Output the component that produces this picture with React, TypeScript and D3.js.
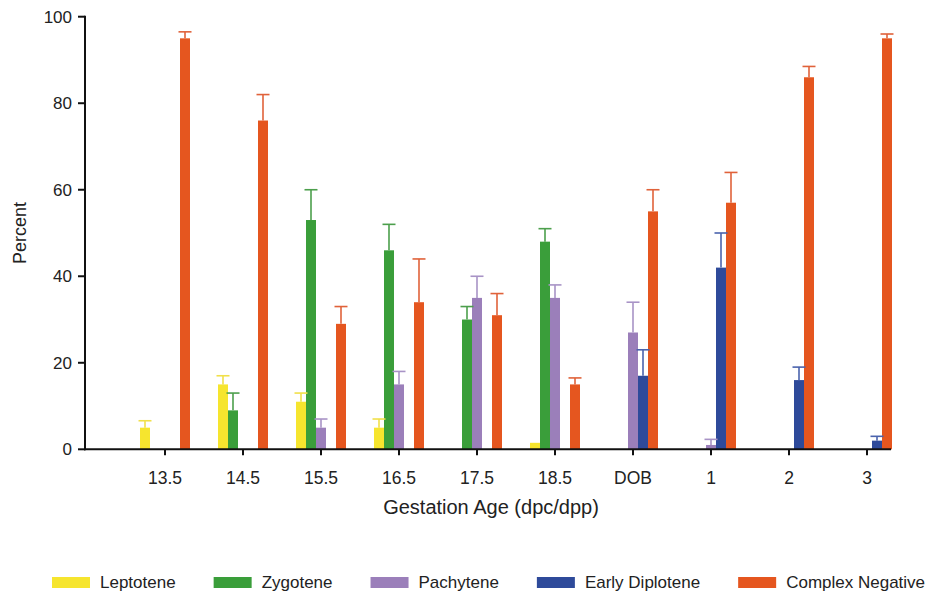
import { useEffect, useRef } from 'react';
import * as d3 from 'd3';

const categories = ['13.5', '14.5', '15.5', '16.5', '17.5', '18.5', 'DOB', '1', '2', '3'];

const stages = ['Leptotene', 'Zygotene', 'Pachytene', 'Early Diplotene', 'Complex Negative'];

const leptotene = [5, 15, 11, 5, 0, 1.5, 0, 0, 0, 0];
const zygotene = [0, 9, 53, 46, 30, 48, 0, 0, 0, 0];
const pachytene = [0, 0, 5, 15, 35, 35, 27, 1, 0, 0];
const earlyDiplotene = [0, 0, 0, 0, 0, 0, 17, 42, 16, 2];
const complexNegative = [95, 76, 29, 34, 31, 15, 55, 57, 86, 95];

// error bar (upper) lengths
const leptoteneErr = [1.6, 2, 2, 2, 0, 0, 0, 0, 0, 0];
const zygoteneErr = [0, 4, 7, 6, 3, 3, 0, 0, 0, 0];
const pachyteneErr = [0, 0, 2, 3, 5, 3, 7, 1.3, 0, 0];
const earlyDiploteneErr = [0, 0, 0, 0, 0, 0, 6, 8, 3, 1];
const complexNegativeErr = [1.5, 6, 4, 10, 5, 1.5, 5, 7, 2.5, 1];

const yTicks = [0, 20, 40, 60, 80, 100];

const seriesValues = [leptotene, zygotene, pachytene, earlyDiplotene, complexNegative];
const seriesErrors = [leptoteneErr, zygoteneErr, pachyteneErr, earlyDiploteneErr, complexNegativeErr];

const barColors = ['#f6e52e', '#3a9e3a', '#9b7fba', '#2e4a9a', '#e5561f'];
const errColors = ['#f1e04a', '#4c9f4c', '#a893c6', '#4a63ad', '#e0623a'];

const FONT = "'Liberation Sans', Arial, Helvetica, sans-serif";
const TEXT = '#222';

export default function App() {
    const svgRef = useRef<SVGSVGElement>(null);
    const width = 929;
    const height = 592;

    useEffect(() => {
        if (!svgRef.current) return;
        const svg = d3.select(svgRef.current);
        svg.selectAll('*').remove();

        const axisLeft = 85;
        const axisRight = 891;

        const x = d3.scalePoint<string>()
            .domain(categories)
            .range([165, 867]);

        const x1 = d3.scaleBand<string>()
            .domain(stages)
            .range([-25, 25])
            .padding(0);

        const y = d3.scaleLinear()
            .domain([0, 100])
            .range([449.3, 16.7]);

        const rows = stages.flatMap((stage, si) =>
            categories.map((cat, ci) => ({
                stage,
                si,
                cat,
                value: seriesValues[si][ci],
                err: seriesErrors[si][ci],
            }))
        ).filter(d => d.value > 0);

        const g = svg.append('g');

        // Bars
        g.selectAll('rect.bar')
            .data(rows)
            .join('rect')
            .attr('class', 'bar')
            .attr('x', d => (x(d.cat) as number) + (x1(d.stage) as number))
            .attr('y', d => y(d.value))
            .attr('width', x1.bandwidth())
            .attr('height', d => y(0) - y(d.value))
            .attr('fill', d => barColors[d.si]);

        // Error bars
        const withErr = rows.filter(d => d.err > 0);
        const cx = (d: typeof rows[number]) => (x(d.cat) as number) + (x1(d.stage) as number) + x1.bandwidth() / 2;

        g.selectAll('line.err')
            .data(withErr)
            .join('line')
            .attr('class', 'err')
            .attr('x1', cx)
            .attr('x2', cx)
            .attr('y1', d => y(d.value))
            .attr('y2', d => y(d.value + d.err))
            .attr('stroke', d => errColors[d.si])
            .attr('stroke-width', 1.6);

        g.selectAll('line.cap')
            .data(withErr)
            .join('line')
            .attr('class', 'cap')
            .attr('x1', d => cx(d) - 6.5)
            .attr('x2', d => cx(d) + 6.5)
            .attr('y1', d => y(d.value + d.err))
            .attr('y2', d => y(d.value + d.err))
            .attr('stroke', d => errColors[d.si])
            .attr('stroke-width', 1.6);

        // Y axis
        const yAxis = svg.append('g');
        yAxis.append('line')
            .attr('x1', axisLeft).attr('x2', axisLeft)
            .attr('y1', y(100) - 1).attr('y2', y(0) + 1)
            .attr('stroke', '#111').attr('stroke-width', 2);
        yAxis.selectAll('line.tick')
            .data(yTicks)
            .join('line')
            .attr('class', 'tick')
            .attr('x1', axisLeft - 7).attr('x2', axisLeft)
            .attr('y1', d => y(d)).attr('y2', d => y(d))
            .attr('stroke', '#111').attr('stroke-width', 2);
        yAxis.selectAll('text')
            .data(yTicks)
            .join('text')
            .attr('x', axisLeft - 13)
            .attr('y', d => y(d))
            .attr('dy', '0.35em')
            .attr('text-anchor', 'end')
            .attr('font-family', FONT)
            .attr('font-size', 17)
            .attr('fill', TEXT)
            .text(d => d);

        svg.append('text')
            .attr('transform', `translate(26,${(y(0) + y(100)) / 2}) rotate(-90)`)
            .attr('text-anchor', 'middle')
            .attr('font-family', FONT)
            .attr('font-size', 18)
            .attr('fill', TEXT)
            .text('Percent');

        // X axis
        const xAxis = svg.append('g');
        xAxis.append('line')
            .attr('x1', axisLeft - 1).attr('x2', axisRight)
            .attr('y1', y(0)).attr('y2', y(0))
            .attr('stroke', '#111').attr('stroke-width', 2);
        xAxis.selectAll('line.tick')
            .data(categories)
            .join('line')
            .attr('class', 'tick')
            .attr('x1', d => x(d) as number).attr('x2', d => x(d) as number)
            .attr('y1', y(0)).attr('y2', y(0) + 6)
            .attr('stroke', '#111').attr('stroke-width', 2);
        xAxis.selectAll('text')
            .data(categories)
            .join('text')
            .attr('x', d => x(d) as number)
            .attr('y', 484)
            .attr('text-anchor', 'middle')
            .attr('font-family', FONT)
            .attr('font-size', 17.5)
            .attr('fill', TEXT)
            .text(d => d);

        svg.append('text')
            .attr('x', (axisLeft + axisRight) / 2 + 3)
            .attr('y', 514)
            .attr('text-anchor', 'middle')
            .attr('font-family', FONT)
            .attr('font-size', 20)
            .attr('fill', TEXT)
            .text('Gestation Age (dpc/dpp)');

        // Legend
        const legend = svg.append('g');
        let lx = 52;
        stages.forEach((stage, i) => {
            legend.append('rect')
                .attr('x', lx)
                .attr('y', 577)
                .attr('width', 38)
                .attr('height', 11)
                .attr('fill', barColors[i]);
            const t = legend.append('text')
                .attr('x', lx + 48)
                .attr('y', 588)
                .attr('font-family', FONT)
                .attr('font-size', 17)
                .attr('fill', TEXT)
                .text(stage);
            const w = (t.node() as SVGTextElement).getComputedTextLength();
            lx = lx + 48 + w + 38;
        });
    }, []);

    return (
        <svg
            ref={svgRef}
            width={width}
            height={height}
            style={{ position: 'absolute', left: 0, top: 0, background: '#fff' }}
        />
    );
}
